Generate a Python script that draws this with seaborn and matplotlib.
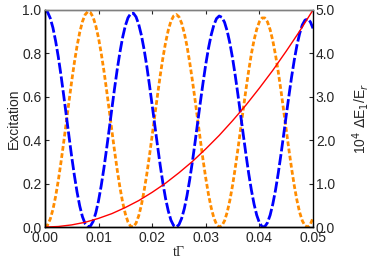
import numpy as np
import pandas as pd
import matplotlib
matplotlib.use("Agg")
import matplotlib.pyplot as plt
import seaborn as sns

# 時間軸 (tΓ)，每 0.0005 取一點
t = [round(0.0005 * i, 4) for i in range(101)]

# 藍色：從 1 開始的激發機率
blue = [1.000, 0.990, 0.962, 0.918, 0.857, 0.784, 0.700, 0.608, 0.513, 0.417,
        0.324, 0.238, 0.161, 0.097, 0.048, 0.016, 0.001, 0.005, 0.026, 0.066,
        0.121, 0.190, 0.270, 0.359, 0.452, 0.547, 0.640, 0.728, 0.806, 0.874,
        0.927, 0.964, 0.983, 0.985, 0.968, 0.933, 0.883, 0.818, 0.741, 0.654,
        0.562, 0.468, 0.375, 0.285, 0.203, 0.132, 0.075, 0.032, 0.007, 0.000,
        0.011, 0.040, 0.085, 0.145, 0.218, 0.300, 0.390, 0.484, 0.577, 0.666,
        0.750, 0.823, 0.884, 0.930, 0.960, 0.972, 0.966, 0.943, 0.902, 0.846,
        0.777, 0.697, 0.609, 0.517, 0.424, 0.333, 0.247, 0.171, 0.106, 0.055,
        0.020, 0.002, 0.002, 0.020, 0.055, 0.106, 0.170, 0.246, 0.331, 0.421,
        0.514, 0.604, 0.691, 0.769, 0.837, 0.891, 0.931, 0.953, 0.958, 0.945,
        0.915]

# 橘色：從 0 開始的激發機率
orange = [0.000, 0.009, 0.037, 0.081, 0.141, 0.214, 0.298, 0.389, 0.484, 0.579,
          0.672, 0.758, 0.834, 0.897, 0.946, 0.978, 0.992, 0.988, 0.966, 0.926,
          0.871, 0.801, 0.721, 0.632, 0.538, 0.442, 0.349, 0.261, 0.182, 0.114,
          0.061, 0.023, 0.003, 0.001, 0.018, 0.052, 0.102, 0.167, 0.243, 0.329,
          0.421, 0.515, 0.607, 0.697, 0.778, 0.849, 0.906, 0.948, 0.972, 0.979,
          0.968, 0.939, 0.893, 0.833, 0.759, 0.676, 0.586, 0.492, 0.399, 0.308,
          0.225, 0.151, 0.090, 0.043, 0.013, 0.000, 0.006, 0.029, 0.069, 0.124,
          0.193, 0.273, 0.360, 0.452, 0.545, 0.635, 0.720, 0.797, 0.861, 0.911,
          0.946, 0.963, 0.963, 0.945, 0.909, 0.858, 0.793, 0.717, 0.632, 0.541,
          0.448, 0.357, 0.270, 0.191, 0.123, 0.068, 0.029, 0.006, 0.000, 0.013,
          0.042]

# 紅色：能量位移 10^4 ΔE1/Er（右軸）
t_red = [round(0.0025 * i, 4) for i in range(21)]
shift = [0.0, 0.013, 0.05, 0.11, 0.20, 0.31, 0.45, 0.61, 0.80, 1.01,
         1.25, 1.51, 1.80, 2.11, 2.45, 2.81, 3.20, 3.61, 4.05, 4.51, 5.00]

x_ticks = [0.00, 0.01, 0.02, 0.03, 0.04, 0.05]
left_ticks = [0.0, 0.2, 0.4, 0.6, 0.8, 1.0]
right_ticks = [0.0, 1.0, 2.0, 3.0, 4.0, 5.0]

df = pd.DataFrame({"t": t, "blue": blue, "orange": orange})
df_red = pd.DataFrame({"t": t_red, "shift": shift})

sns.set_style("ticks")
plt.rcParams['font.family'] = ['Liberation Sans', 'DejaVu Sans']
plt.rcParams['font.size'] = 10

fig, ax = plt.subplots(figsize=(3.74, 2.61), dpi=100)
fig.subplots_adjust(left=0.120, right=0.837, top=0.962, bottom=0.130)

sns.lineplot(data=df, x="t", y="orange", ax=ax, color="#ff8c00", lw=2.0,
             linestyle=(0, (1.7, 0.9)))
sns.lineplot(data=df, x="t", y="blue", ax=ax, color="#0000ff", lw=2.0,
             linestyle=(0, (4.0, 1.0)))

ax2 = ax.twinx()
sns.lineplot(data=df_red, x="t", y="shift", ax=ax2, color="#ff0000", lw=1.0)

ax.set_xlim(0, 0.05)
ax.set_ylim(0, 1)
ax2.set_ylim(0, 5)
ax.set_xticks(x_ticks)
ax.set_xticklabels([f"{v:.2f}" for v in x_ticks])
ax.set_yticks(left_ticks)
ax.set_yticklabels([f"{v:.1f}" for v in left_ticks])
ax2.set_yticks(right_ticks)
ax2.set_yticklabels([f"{v:.1f}" for v in right_ticks])

ax.set_xlabel("tΓ", family=["Liberation Serif", "DejaVu Serif"], fontsize=10, labelpad=1)
ax.set_ylabel("Excitation", fontsize=10, labelpad=1)
ax2.set_ylabel(r"10$^4$ $\Delta$E$_1$/E$_r$", fontsize=10, labelpad=11)

ax.tick_params(direction="in", length=3, top=True, right=False, pad=2.5)
ax2.tick_params(direction="in", length=3, pad=2)
for a in (ax, ax2):
    for s in a.spines.values():
        s.set_color("black")
        s.set_linewidth(1.0)
    a.spines["top"].set_color("#808080")
ax.spines["right"].set_visible(False)

fig.savefig("out.png", dpi=100)
